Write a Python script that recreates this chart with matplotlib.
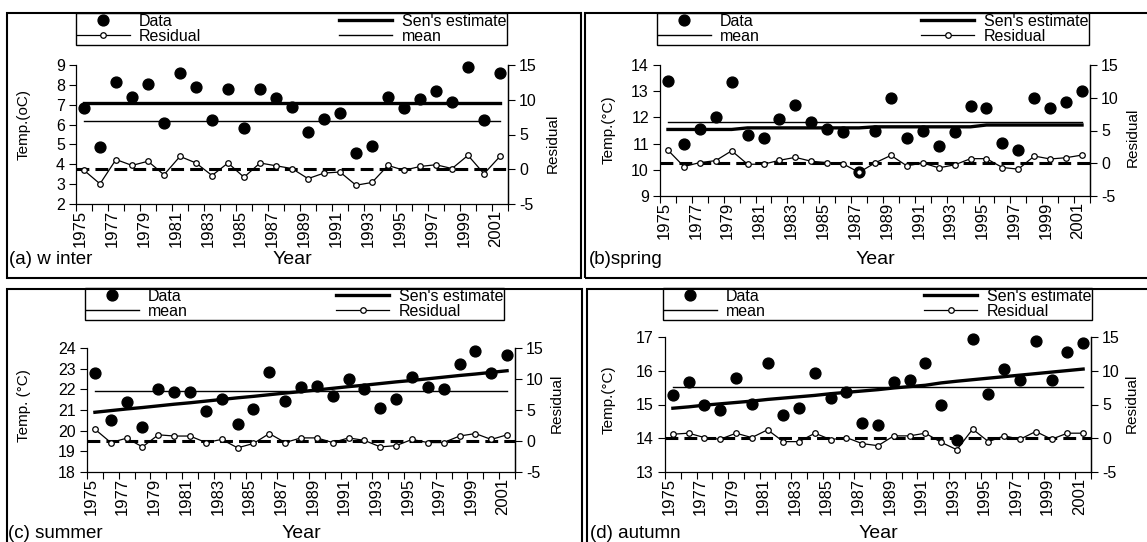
import numpy as np
import matplotlib
matplotlib.use("Agg")
import matplotlib.pyplot as plt
from matplotlib.patches import Rectangle

plt.rcParams['font.family'] = ['Liberation Sans', 'DejaVu Sans']
plt.rcParams['axes.unicode_minus'] = False

# ---------------- data ----------------
years = list(range(1975, 2002))

temp_a = [6.82, 4.89, 8.16, 7.41, 8.03, 6.06, 8.61, 7.88, 6.23, 7.77, 5.84, 7.77, 7.32, 6.87,
          5.64, 6.28, 6.60, 4.59, 4.94, 7.41, 6.82, 7.27, 7.71, 7.15, 8.92, 6.23, 8.61]
resid_a = [-0.15, -2.1, 1.4, 0.55, 1.15, -0.8, 1.85, 0.9, -0.9, 0.9, -1.15, 0.9, 0.5, 0.1,
           -1.35, -0.55, -0.4, -2.3, -1.9, 0.55, -0.15, 0.4, 0.65, 0.1, 2.0, -0.65, 1.85]
sen_a = [7.07, 7.07, 7.07, 7.07, 7.07, 7.07, 7.07, 7.07, 7.07, 7.07, 7.07, 7.07, 7.07, 7.07,
         7.07, 7.07, 7.07, 7.07, 7.07, 7.07, 7.07, 7.07, 7.07, 7.07, 7.07, 7.07, 7.07]
mean_a = 6.18

temp_b = [13.40, 10.98, 11.56, 12.00, 13.36, 11.33, 11.23, 11.94, 12.46, 11.84, 11.56, 11.43, 9.90, 11.49,
          12.74, 11.23, 11.49, 10.92, 11.43, 12.42, 12.37, 11.04, 10.74, 12.73, 12.35, 12.58, 13.02]
resid_b = [2.0, -0.5, 0.1, 0.4, 1.9, -0.15, -0.15, 0.45, 0.9, 0.3, 0.1, -0.1, -1.4, 0.05,
           1.2, -0.4, 0.05, -0.7, -0.25, 0.7, 0.7, -0.65, -0.9, 1.1, 0.65, 0.85, 1.25]
sen_b = [11.54, 11.54, 11.54, 11.54, 11.54, 11.60, 11.60, 11.60, 11.60, 11.60, 11.60, 11.60, 11.60, 11.64,
         11.64, 11.64, 11.64, 11.64, 11.64, 11.64, 11.71, 11.71, 11.71, 11.71, 11.71, 11.71, 11.71]
mean_b = 11.81

temp_c = [22.78, 20.51, 21.39, 20.19, 22.02, 21.89, 21.89, 20.95, 21.54, 20.30, 21.03, 22.83, 21.45, 22.10,
          22.18, 21.70, 22.49, 22.02, 21.11, 21.54, 22.59, 22.10, 22.02, 23.24, 23.84, 22.78, 23.68]
resid_c = [1.9, -0.25, 0.45, -0.95, 1.0, 0.8, 0.8, -0.25, 0.25, -1.1, -0.4, 1.2, -0.25, 0.5,
           0.5, -0.25, 0.5, 0.1, -0.95, -0.75, 0.25, -0.25, -0.25, 0.8, 1.2, 0.25, 1.0]
sen_c = [20.89, 20.97, 21.05, 21.12, 21.20, 21.28, 21.35, 21.43, 21.51, 21.59, 21.66, 21.74, 21.82, 21.89,
         21.97, 22.05, 22.13, 22.20, 22.28, 22.36, 22.43, 22.51, 22.59, 22.67, 22.74, 22.82, 22.90]
mean_c = 21.92

temp_d = [15.28, 15.67, 14.98, 14.85, 15.80, 15.02, 16.24, 14.70, 14.90, 15.94, 15.18, 15.37, 14.45, 14.40,
          15.67, 15.72, 16.24, 14.98, 13.96, 16.94, 15.32, 16.06, 15.72, 16.89, 15.72, 16.55, 16.81]
resid_d = [0.6, 0.75, 0.1, -0.15, 0.75, 0.1, 1.25, -0.5, -0.5, 0.75, -0.2, 0.1, -0.8, -1.1,
           0.35, 0.35, 0.75, -0.6, -1.7, 1.35, -0.5, 0.35, -0.15, 1.0, -0.15, 0.75, 0.75]
sen_d = [14.89, 14.93, 14.98, 15.02, 15.06, 15.10, 15.15, 15.19, 15.23, 15.27, 15.32, 15.36, 15.40, 15.44,
         15.49, 15.53, 15.57, 15.64, 15.69, 15.735, 15.78, 15.825, 15.87, 15.915, 15.96, 16.005, 16.05]
mean_d = 15.51

panel_labels = ["(a) w inter", "(b)spring", "(c) summer", "(d) autumn"]
ylabels = ["Temp.(oC)", "Temp.(\u00b0C)", "Temp. (\u00b0C)", "Temp.(\u00b0C)"]
ylims = [(2, 9), (9, 14), (18, 24), (13, 17)]

# ---------------- layout (pixels) ----------------
W, H = 1147, 542
fig = plt.figure(figsize=(W / 100, H / 100), dpi=100)


def frac(x0, y0, x1, y1):
    return [x0 / W, 1 - y1 / H, (x1 - x0) / W, (y1 - y0) / H]


panels = [
    dict(temp=temp_a, resid=resid_a, sen=sen_a, mean=mean_a, order="a",
         border=(7, 13, 581, 278), axes=(76, 65, 508, 204), legend=(76, 13, 507, 43),
         ylab=(24, 124), rlab=(553, 143), lab=(9, 260)),
    dict(temp=temp_b, resid=resid_b, sen=sen_b, mean=mean_b, order="b",
         border=(585, 13, 1152, 278), axes=(660, 65, 1090, 196), legend=(657, 13, 1089, 45),
         ylab=(609, 130), rlab=(1133, 137), lab=(589, 260)),
    dict(temp=temp_c, resid=resid_c, sen=sen_c, mean=mean_c, order="b",
         border=(7, 289, 582, 548), axes=(87, 348, 515, 472), legend=(85, 288, 504, 324),
         ylab=(24, 406), rlab=(557, 403), lab=(8, 534)),
    dict(temp=temp_d, resid=resid_d, sen=sen_d, mean=mean_d, order="b",
         border=(587, 289, 1152, 548), axes=(665, 337, 1091, 472), legend=(663, 288, 1092, 323),
         ylab=(609, 400), rlab=(1132, 403), lab=(590, 533)),
]

x = np.arange(len(years))
tick_fs = 11.5

for i, p in enumerate(panels):
    bx0, by0, bx1, by1 = p["border"]
    fig.add_artist(Rectangle((bx0 / W, 1 - by1 / H), (bx1 - bx0) / W, (by1 - by0) / H,
                             transform=fig.transFigure, fill=False, edgecolor='black', lw=1.5))

    ax0, ay0, ax1, ay1 = p["axes"]
    ax = fig.add_axes(frac(ax0, ay0, ax1, ay1))
    ax.patch.set_alpha(0)
    ax2 = ax.twinx()
    ax2.patch.set_alpha(0)

    for a in (ax, ax2):
        a.spines['top'].set_visible(False)
        for s in a.spines.values():
            s.set_linewidth(0.9)
    ax2.spines['left'].set_visible(False)
    ax2.spines['bottom'].set_visible(False)

    # data
    l_sen, = ax.plot(x, p["sen"], color='black', lw=2.4, zorder=3)
    l_mean, = ax.plot(x, [p["mean"]] * len(x), color='black', lw=1.0, zorder=3)
    l_dat, = ax.plot(x, p["temp"], linestyle='none', marker='o', ms=7.8,
                     color='black', zorder=5, clip_on=False)
    ax2.axhline(0, color='black', lw=2.2, linestyle=(0, (4.2, 2.0)), zorder=2)
    l_res, = ax2.plot(x, p["resid"], color='black', lw=0.9, marker='o', ms=4,
                      mfc='white', mec='black', mew=0.9, zorder=4, clip_on=False)

    lo, hi = ylims[i]
    ax.set_ylim(lo, hi)
    ax.set_yticks(np.arange(lo, hi + 1, 1))
    ax2.set_ylim(-5, 15)
    ax2.set_yticks([-5, 0, 5, 10, 15])
    ax.set_xlim(-0.5, len(x) - 0.5)

    ax.set_xticks(np.arange(-0.5, len(x), 1.0))
    ax.set_xticklabels([])
    ax.set_xticks(x[::2] - 0.25, minor=True)
    ax.set_xticklabels([str(y) for y in years[::2]], minor=True, rotation=90,
                       fontsize=12, va='top', ha='center')
    ax.tick_params(axis='x', which='major', direction='out', length=5, width=0.8)
    ax.tick_params(axis='x', which='minor', length=0, pad=4)
    ax.tick_params(axis='y', direction='out', length=5, width=0.8, labelsize=tick_fs, pad=3)
    ax2.tick_params(axis='y', direction='out', length=5, width=0.8, labelsize=tick_fs, pad=3)

    # axis labels
    axw = ax1 - ax0
    axh = ay1 - ay0
    ax.set_ylabel(ylabels[i], fontsize=11)
    ax.yaxis.set_label_coords((p["ylab"][0] - ax0) / axw, (ay1 - p["ylab"][1]) / axh)
    ax2.set_ylabel("Residual", fontsize=11)
    ax2.yaxis.set_label_coords((p["rlab"][0] - ax0) / axw, (ay1 - p["rlab"][1]) / axh)
    for lab in (ax.yaxis.label, ax2.yaxis.label):
        lab.set_va('center')
        lab.set_ha('center')

    fig.text((ax0 + ax1) / 2 / W, 1 - p["lab"][1] / H, "Year", fontsize=14,
             ha='center', va='center')
    fig.text(p["lab"][0] / W, 1 - p["lab"][1] / H, panel_labels[i], fontsize=13.5,
             ha='left', va='center')

    # legend
    if p["order"] == "a":
        handles = [l_dat, l_res, l_sen, l_mean]
        labels = ["Data", "Residual", "Sen's estimate", "mean"]
    else:
        handles = [l_dat, l_mean, l_sen, l_res]
        labels = ["Data", "mean", "Sen's estimate", "Residual"]
    lx0, ly0, lx1, ly1 = p["legend"]
    leg = ax.legend(handles, labels, ncol=2, mode='expand', loc='upper left',
                    bbox_to_anchor=(lx0 / W, 1 - ly0 / H, (lx1 - lx0) / W, 0),
                    bbox_transform=fig.transFigure, borderaxespad=0,
                    frameon=True, fancybox=False, edgecolor='black', framealpha=1,
                    fontsize=11.5, borderpad=0.05, labelspacing=0.0,
                    handlelength=3.3, handletextpad=0.6, columnspacing=1.0,
                    numpoints=1)
    leg.get_frame().set_linewidth(1.0)
    leg.set_zorder(10)

fig.savefig("out.png", dpi=100, facecolor='white')
